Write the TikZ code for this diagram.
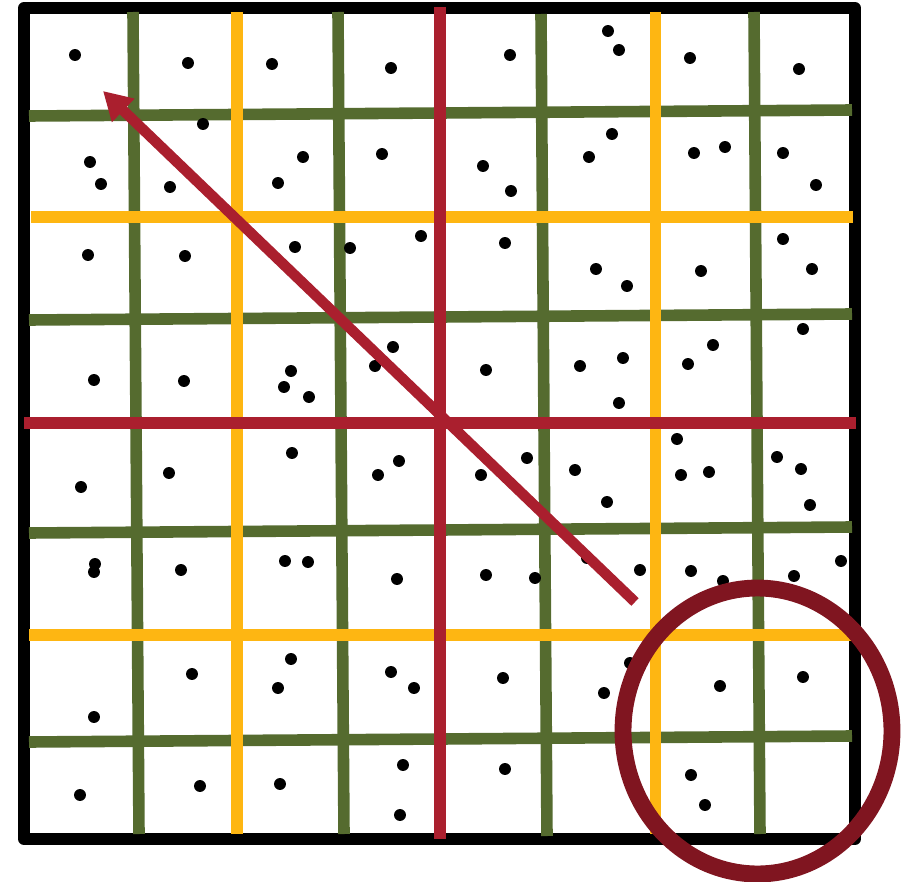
\documentclass[tikz,border=0pt]{standalone}
\usetikzlibrary{arrows.meta}

\definecolor{finegreen}{RGB}{85,107,47}
\definecolor{midyellow}{RGB}{254,182,18}
\definecolor{coarsered}{RGB}{170,31,46}
\definecolor{focusred}{RGB}{128,21,32}

\begin{document}
\begin{tikzpicture}[
  x=0.02cm,
  y=-0.02cm,
  frame/.style={draw=black, line width=6.8pt, line join=round},
  finesplit/.style={draw=finegreen, line width=6.6pt},
  midsplit/.style={draw=midyellow, line width=6.8pt},
  coarsesplit/.style={draw=coarsered, line width=6.8pt},
  sample/.style={fill=black},
  query/.style={
    draw=coarsered,
    line width=6pt,
    -{Triangle[length=16pt,width=17.5pt]}
  },
  focus/.style={draw=focusred, line width=9.6pt}
]
\useasboundingbox (0,0) rectangle (917,882);

% ---------------------------------------------------------------------------
% Outer domain
% ---------------------------------------------------------------------------
\path[frame] (24,8) rectangle (855,839);

% ---------------------------------------------------------------------------
% Finest level (green)
% ---------------------------------------------------------------------------
\draw[finesplit] (133,12) -- (139,834);
\draw[finesplit] (338,12) -- (344,834);
\draw[finesplit] (541,14) -- (547,836);
\draw[finesplit] (754,12) -- (760,834);
\draw[finesplit] (29,116) -- (852,110);
\draw[finesplit] (29,320) -- (852,314);
\draw[finesplit] (29,533) -- (852,527);
\draw[finesplit] (29,742) -- (852,736);

% ---------------------------------------------------------------------------
% Middle level (yellow)
% ---------------------------------------------------------------------------
\draw[midsplit] (237,12) -- (237,834);
\draw[midsplit] (655.5,12) -- (655.5,834);
\draw[midsplit] (31,217) -- (853,217);
\draw[midsplit] (29,635) -- (851,635);

% ---------------------------------------------------------------------------
% Coarsest level (red)
% ---------------------------------------------------------------------------
\draw[coarsesplit] (440,7) -- (440,839);
\draw[coarsesplit] (24,423) -- (856,423);

% ---------------------------------------------------------------------------
% Sample points
% ---------------------------------------------------------------------------
\foreach \px/\py in {
  75/55, 188/63, 272/64, 391/68, 510/55, 608/31, 619/50, 690/58, 799/69,
  203/124, 90/162, 101/184, 170/187, 303/157, 278/183, 382/154,
  483/166, 511/191, 589/157, 612/134, 694/153, 725/147, 783/153, 816/185,
  88/255, 185/256, 295/247, 350/248, 421/236, 505/243, 596/269, 627/286,
  701/271, 783/239, 812/269,
  803/329, 94/380, 184/381, 291/371, 284/387, 309/397, 375/366, 393/347,
  486/370, 580/366, 623/358, 619/403, 688/364, 713/345,
  677/439, 81/487, 169/473, 292/453, 378/475, 399/461, 481/475, 527/458,
  575/470, 607/502, 681/475, 709/472, 777/457, 801/469, 810/505,
  95/564, 94/572, 181/570, 285/561, 308/562, 397/579, 486/575, 535/578,
  587/558, 640/570, 691/571, 723/581, 794/576, 841/561,
  192/674, 291/659, 278/688, 391/672, 414/688, 503/678, 630/663, 604/693,
  720/686, 803/677, 94/717,
  80/795, 200/786, 280/784, 403/765, 400/815, 505/769, 691/775, 705/805}
  \fill[sample] (\px,\py) circle[radius=3.4pt];

% ---------------------------------------------------------------------------
% Query direction and highlighted region
% ---------------------------------------------------------------------------
\coordinate (qstart) at (635,602);
\coordinate (qend) at (103,91);
\draw[query] (qstart) -- (qend);

\draw[focus] (757.5,731) ellipse[x radius=2.69cm, y radius=2.86cm];

\end{tikzpicture}
\end{document}
